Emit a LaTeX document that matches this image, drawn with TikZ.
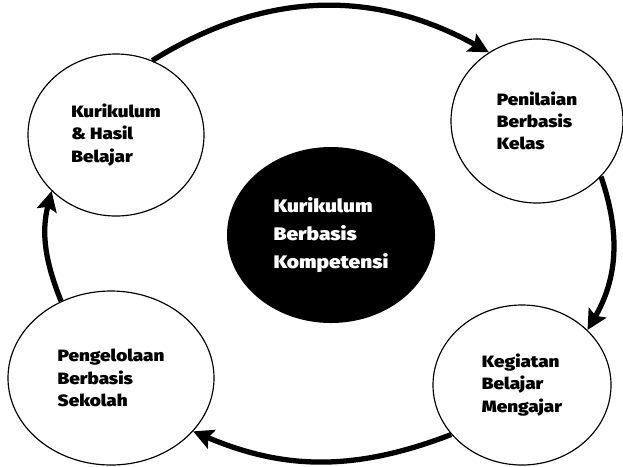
\documentclass[tikz,border=0pt]{standalone}
\usepackage{fontspec}
\setmainfont{Fira Sans}[BoldFont={* Black},BoldFeatures={FakeStretch=1.15}]
\usetikzlibrary{shapes.geometric,arrows.meta}

\begin{document}
\begin{tikzpicture}[x=0.03cm,y=-0.03cm,
	bubble/.style={ellipse,draw,line width=1pt,fill=white,inner sep=0pt,align=left,font=\fontsize{14}{19}\selectfont\bfseries},
	core/.style={ellipse,fill=black,text=white,inner sep=0pt,align=left,font=\fontsize{15.5}{24}\selectfont\bfseries},
	cyc/.style={line width=4.5pt,-{Stealth[length=17pt,width=17pt,inset=3pt]}}]

	\useasboundingbox (0,0) rectangle (623,466);

	\node[core,minimum width=6.24cm,minimum height=5.28cm] (kbk) at (331,235) {Kurikulum\\Berbasis\\Kompetensi};

	\node[bubble,minimum width=5.28cm,minimum height=4.86cm] (khb) at (116,135) {Kurikulum\\\& Hasil\\Belajar};
	\node[bubble,minimum width=5.16cm,minimum height=4.92cm] (pbk) at (537,121) {Penilaian\\Berbasis\\Kelas};
	\node[bubble,minimum width=5.34cm,minimum height=4.8cm] (kbm) at (522,385) {Kegiatan\\Belajar\\Mengajar};
	\node[bubble,minimum width=6.18cm,minimum height=5.22cm] (pbs) at (111,378) {Pengelolaan\\Berbasis\\Sekolah};

	\draw[cyc] (khb.64) to[out=32,in=151] (pbk.125);
	\draw[cyc] (pbk.-41) to[out=-71,in=60] (kbm.40);
	\draw[cyc] (kbm.215) to[out=201,in=337] (pbs.-33);
	\draw[cyc] (pbs.123) to[out=112,in=256] (khb.221);

\end{tikzpicture}
\end{document}
